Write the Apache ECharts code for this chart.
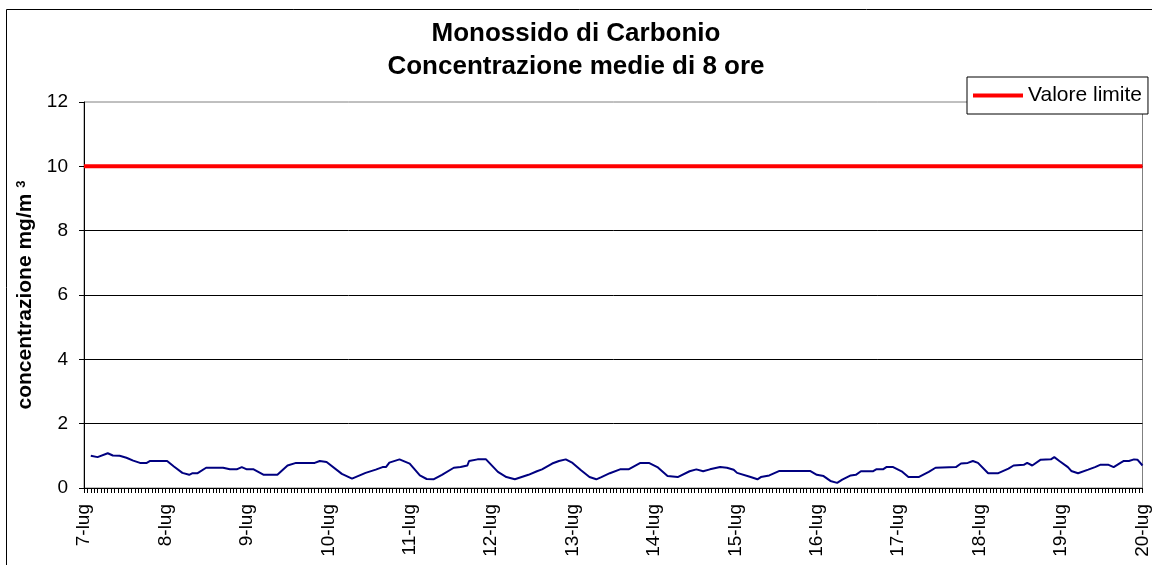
<!DOCTYPE html>
<html>
<head>
<meta charset="utf-8">
<script src="https://cdn.jsdelivr.net/npm/echarts@6/dist/echarts.min.js"></script>
<style>
  html, body { margin: 0; padding: 0; background: #fff; }
  #chart { width: 1152px; height: 565px; }
</style>
</head>
<body>
<div id="chart"></div>
<script>
// day labels, one every 24 hours
const dayLabels = ['7-lug', '8-lug', '9-lug', '10-lug', '11-lug', '12-lug', '13-lug',
  '14-lug', '15-lug', '16-lug', '17-lug', '18-lug', '19-lug', '20-lug']

// hours since 7-lug 00:00 and 8-hour mean CO (mg/m3), read at the line's vertices
const hours = [
  2, 4, 7, 8.5, 10.5, 12.5, 14.5, 16.5, 18.5, 19.5, 24.5, 26.5, 29, 31, 32, 33.5, 36, 41, 43, 45,
  46.5, 48, 50, 53, 57, 60, 62.5, 68, 69.5, 71.5, 76, 79, 83, 86, 88, 89, 90, 93, 96, 99,
  101, 103, 105.5, 109, 111, 111.5, 113, 113.5, 116, 118.5, 122, 124.5, 127, 131, 133.5, 135, 138, 140, 142, 144,
  146.5, 149, 151, 152.5, 155, 158, 160.5, 164, 166.5, 169, 172, 175, 178.5, 180.5, 182.5, 184.5, 187.5, 189.5, 191.5, 192.5,
  196.5, 198.5, 199.5, 202, 205, 214, 216, 218, 220, 222, 223.5, 226, 227.5, 229, 232.5, 233.5, 235.5, 236.5, 238.5, 241,
  243, 246, 249, 251, 257, 258.5, 260.5, 262, 263.5, 266.5, 269.5, 272.5, 274, 277, 278, 279.5, 282, 285, 286, 287.5,
  290, 291, 293, 296, 298, 299.5, 302, 303.5, 305.5, 306.5, 308, 309.5, 310.5, 312
]
const coValues = [
  1.0, 0.96, 1.08, 1.01, 1.0, 0.94, 0.85, 0.78, 0.78, 0.84, 0.84, 0.67, 0.47, 0.41, 0.46, 0.46, 0.63, 0.63, 0.58, 0.58,
  0.65, 0.58, 0.58, 0.41, 0.41, 0.70, 0.78, 0.78, 0.84, 0.81, 0.44, 0.29, 0.47, 0.57, 0.65, 0.65, 0.79, 0.89, 0.76, 0.39,
  0.28, 0.27, 0.41, 0.63, 0.65, 0.70, 0.70, 0.84, 0.89, 0.89, 0.50, 0.34, 0.27, 0.41, 0.52, 0.58, 0.76, 0.84, 0.89, 0.78,
  0.55, 0.34, 0.27, 0.34, 0.46, 0.58, 0.58, 0.78, 0.78, 0.65, 0.37, 0.34, 0.52, 0.58, 0.52, 0.58, 0.65, 0.63, 0.57, 0.47,
  0.34, 0.27, 0.34, 0.39, 0.53, 0.53, 0.41, 0.37, 0.22, 0.16, 0.26, 0.39, 0.41, 0.52, 0.52, 0.58, 0.58, 0.65, 0.65, 0.52,
  0.34, 0.34, 0.50, 0.63, 0.65, 0.76, 0.78, 0.84, 0.78, 0.46, 0.46, 0.60, 0.70, 0.72, 0.78, 0.70, 0.88, 0.89, 0.96, 0.84,
  0.65, 0.53, 0.46, 0.57, 0.65, 0.72, 0.72, 0.65, 0.78, 0.84, 0.84, 0.89, 0.88, 0.70
]

// limit value line
const limitHours = [0, 312]
const limitValues = [10, 10]

const font = "'Liberation Sans', Arial, sans-serif"
const chart = echarts.init(document.getElementById('chart'))

chart.setOption({
  backgroundColor: '#fff',
  animation: false,
  graphic: [
    {
      type: 'rect',
      shape: { x: 6.5, y: 9.5, width: 1160, height: 580 },
      style: { fill: null, stroke: '#000', lineWidth: 1 },
      z: -1,
    },
  ],
  title: {
    text: 'Monossido di Carbonio\nConcentrazione medie di 8 ore',
    left: 'center',
    top: 12,
    textStyle: {
      fontFamily: font,
      fontSize: 26,
      fontWeight: 'bold',
      color: '#000',
      lineHeight: 33,
    },
  },
  legend: {
    data: ['Valore limite'],
    left: 967,
    top: 77,
    padding: [8, 6, 8, 6],
    backgroundColor: '#fff',
    borderColor: '#000',
    borderWidth: 1,
    borderRadius: 0,
    icon: 'rect',
    itemWidth: 50,
    itemHeight: 4,
    textStyle: { fontFamily: font, fontSize: 21, color: '#000' },
  },
  grid: {
    left: 84,
    right: 4,
    top: 102,
    bottom: 77,
    show: true,
    borderColor: '#808080',
    borderWidth: 1,
  },
  xAxis: {
    type: 'value',
    min: 0,
    max: 312,
    interval: 24,
    axisLine: { lineStyle: { color: '#000', width: 1 } },
    axisTick: { show: true, length: 5, lineStyle: { color: '#000' } },
    minorTick: { show: true, splitNumber: 24, length: 5, lineStyle: { color: '#000' } },
    splitLine: { show: false },
    axisLabel: {
      rotate: 90,
      margin: 16,
      fontFamily: font,
      fontSize: 19,
      color: '#000',
      formatter: v => dayLabels[Math.round(v / 24)],
    },
  },
  yAxis: {
    type: 'value',
    min: 0,
    max: 12,
    interval: 2,
    name: '{a|concentrazione mg/m }{s|3}',
    nameLocation: 'middle',
    nameRotate: 90,
    nameGap: 45,
    nameTextStyle: {
      rich: {
        a: { fontFamily: font, fontSize: 21, fontWeight: 'bold', color: '#000', verticalAlign: 'bottom' },
        s: { fontFamily: font, fontSize: 13, fontWeight: 'bold', color: '#000', verticalAlign: 'top' },
      },
    },
    axisLine: { show: true, lineStyle: { color: '#000', width: 1 } },
    axisTick: { show: true, length: 5, lineStyle: { color: '#000' } },
    splitLine: { show: true, showMaxLine: false, lineStyle: { color: '#000', width: 1 } },
    axisLabel: { margin: 16, fontFamily: font, fontSize: 19, color: '#000' },
  },
  series: [
    {
      name: 'CO',
      type: 'line',
      data: hours.map((h, i) => [h, coValues[i]]),
      symbol: 'none',
      lineStyle: { color: '#000080', width: 2 },
      itemStyle: { color: '#000080' },
      z: 3,
    },
    {
      name: 'Valore limite',
      type: 'line',
      data: limitHours.map((h, i) => [h, limitValues[i]]),
      symbol: 'none',
      lineStyle: { color: '#ff0000', width: 4 },
      itemStyle: { color: '#ff0000' },
      z: 4,
    },
  ],
})
</script>
</body>
</html>
